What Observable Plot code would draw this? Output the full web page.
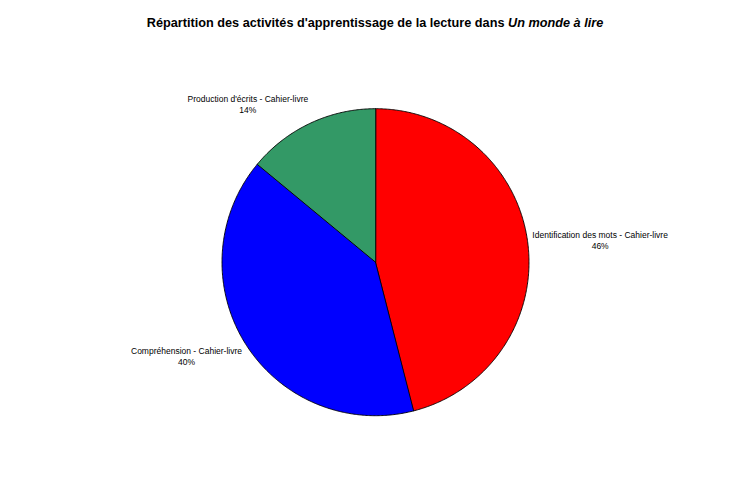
<!DOCTYPE html>
<html><head><meta charset="utf-8">
<script src="https://cdn.jsdelivr.net/npm/d3@7"></script>
<script src="https://cdn.jsdelivr.net/npm/@observablehq/plot@0.6"></script>
<style>
body{margin:0;background:#fff;}
#title{width:750px;height:44px;box-sizing:border-box;padding-top:15px;text-align:center;font:bold 12.7px/16px "Liberation Sans",Arial,sans-serif;color:#000;}
</style></head><body>
<div id="title">Répartition des activités d'apprentissage de la lecture dans <i>Un monde à lire</i></div>
<div id="chart"></div>
<script>
// Data
const categories = ["Identification des mots - Cahier-livre", "Compréhension - Cahier-livre", "Production d'écrits - Cahier-livre"];
const shares = [46, 40, 14];
const colors = ["#FF0000", "#0000FF", "#339966"];

// Layout
const W = 750, H = 439;
const cx = 375, cy = 217.7, R = 153.5;   // pixels
const fx = 1.03, fy = 1.14;              // label offsets (radius factors)
const labelFont = 8.5, fontFamily = "'Liberation Sans', Arial, sans-serif";

const total = d3.sum(shares);
const arcs = d3.pie().sort(null).value(d => d)(shares);

// arc outlines in unit coordinates (radius 1, y up)
const pts = [];
arcs.forEach((a, i) => {
  const n = Math.max(2, Math.ceil((a.endAngle - a.startAngle) / (2 * Math.PI) * 720));
  pts.push({x: 0, y: 0, cat: categories[i], color: colors[i]});
  for (let k = 0; k <= n; k++) {
    const t = a.startAngle + (a.endAngle - a.startAngle) * k / n;
    pts.push({x: Math.sin(t), y: Math.cos(t), cat: categories[i], color: colors[i]});
  }
});

// label text measurement
const ctx = document.createElement("canvas").getContext("2d");
ctx.font = `${labelFont}px ${fontFamily}`;
const labels = arcs.map((a, i) => {
  const mid = (a.startAngle + a.endAngle) / 2;
  const pct = Math.round(shares[i] / total * 100) + "%";
  const w = Math.max(ctx.measureText(categories[i]).width, ctx.measureText(pct).width);
  const sx = Math.sin(mid), sy = Math.cos(mid);
  const ax = fx * sx, ay = fy * sy;
  const lx = ax + (sx >= 0 ? 1 : -1) * (w / 2) / R;
  return {lx, ly: ay, text: categories[i] + "\n" + pct};
});

const chart = Plot.plot({
  width: W, height: H, margin: 0,
  style: {background: "#fff"},
  x: {domain: [-cx / R, (W - cx) / R], axis: null},
  y: {domain: [-(H - cy) / R, cy / R], axis: null},
  color: {type: "identity"},
  marks: [
    Plot.line(pts, {x: "x", y: "y", z: "cat", fill: "color", stroke: "#000", strokeWidth: 0.9, curve: "linear-closed"}),
    Plot.text(labels, {x: "lx", y: "ly", text: "text", textAnchor: "middle", lineAnchor: "middle", lineHeight: 1.3, fontSize: labelFont, fontFamily, fill: "#000"})
  ]
});
document.getElementById("chart").appendChild(chart);
</script>
</body></html>
